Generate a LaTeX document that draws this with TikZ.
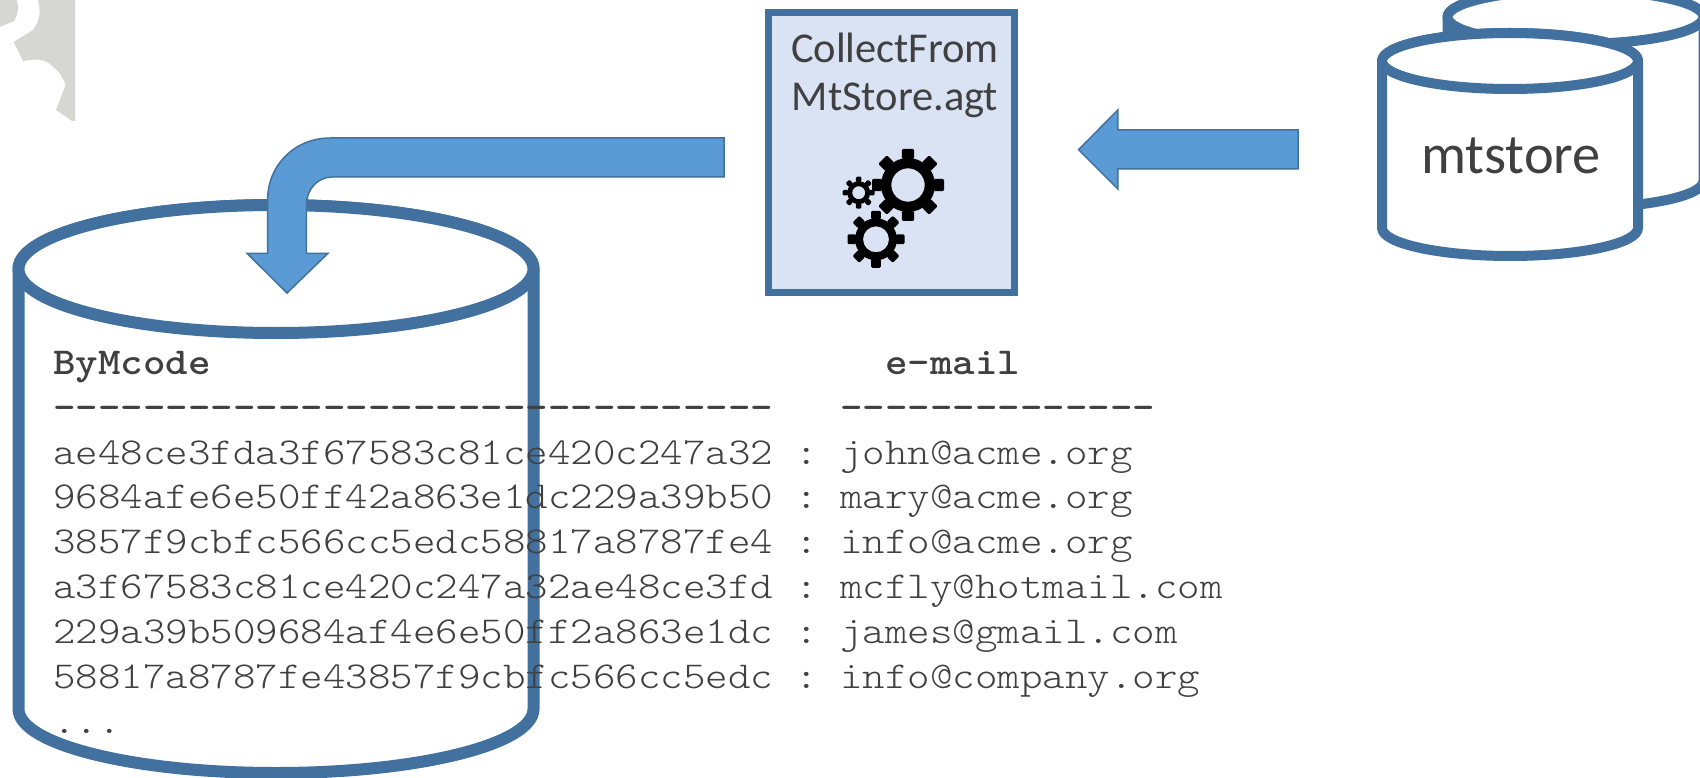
\documentclass[tikz,border=0pt]{standalone}
\usepackage{fontspec}
\setmainfont{Carlito}
\newfontfamily\codefont[FakeStretch=1.1275]{Latin Modern Mono Light}
\definecolor{edgeblue}{HTML}{43719F}
\definecolor{arrowblue}{HTML}{5B9BD5}
\definecolor{arrowedge}{HTML}{41719C}
\definecolor{boxfill}{HTML}{DAE3F3}
\definecolor{inkgrey}{HTML}{404040}
\definecolor{cornergrey}{HTML}{D6D7D2}
\tikzset{
  cylstroke/.style={draw=edgeblue,fill=white,line join=round},
  blockarrow/.style={fill=arrowblue,draw=arrowedge,line width=1.5pt,line join=miter},
  sanslabel/.style={inner sep=0pt,text=inkgrey,anchor=base,font=\fontsize{42.5}{48}\selectfont},
  storelabel/.style={inner sep=0pt,text=inkgrey,anchor=base,font=\fontsize{56.4}{60}\selectfont},
  codeline/.style={inner sep=0pt,text=inkgrey,anchor=base west,font=\fontsize{38}{45}\codefont},
}
% centre x, top-ellipse y, bottom-ellipse y, rx, ry
\newcommand{\cylinderat}[6]{%
  \path[cylstroke,line width=#6pt]
    ({#1-#4},#2) -- ({#1-#4},#3)
    arc[start angle=180,end angle=360,x radius=#4pt,y radius=#5pt]
    -- ({#1+#4},#2)
    arc[start angle=0,end angle=180,x radius=#4pt,y radius=#5pt] -- cycle;
  \path[cylstroke,line width=#6pt] (#1,#2) ellipse[x radius=#4pt,y radius=#5pt];
}
% centre x, y, outer, root, hole
\newcommand{\gearat}[5]{%
  \fill[black,even odd rule] (#1,#2) circle[radius=#4pt] (#1,#2) circle[radius=#5pt];
  \foreach \tooth in {0,45,...,315}{%
    \fill[black,rounded corners=1.2pt,shift={(#1,#2)},rotate=\tooth]
      ({#4-1},{-0.17*#3}) rectangle (#3,{0.17*#3});
  }%
}
\begin{document}
\begin{tikzpicture}[x=1pt,y=-1pt]
\useasboundingbox (0,0) rectangle (1700,778);
\clip (0,0) rectangle (1700,778);
% corner fragment
\fill[cornergrey] (0,0) -- (17,0) .. controls (19,8) and (18,15) .. (14,21) -- (0,27) -- cycle;
\fill[cornergrey] (38,0) .. controls (41,12) and (40,20) .. (33,30) -- (13.6,42) -- (23,61)
  .. controls (33,59) and (45,58) .. (52,66) .. controls (60,72) and (63,78) .. (65.5,85)
  -- (56,110) -- (72,121) -- (75,121) -- (75,0) -- cycle;
% mtstore cylinders
\cylinderat{1575.5}{17}{181}{128}{27}{10}
\cylinderat{1510}{61}{228}{128}{28}{10}
% ByMcode cylinder
\cylinderat{276}{269}{709}{257.5}{64}{12}
% agent box
\node[draw=edgeblue,fill=boxfill,line width=7pt,outer sep=0pt,minimum width=246pt,minimum height=279.5pt,inner sep=0pt] (agent) at (891.5,152.5) {};
\node[sanslabel] (agentA) at (895,62.7) {CollectFrom};
\node[sanslabel] (agentB) at (895,111) {MtStore.agt};
\gearat{908}{185}{36}{27}{16.7}
\gearat{876}{239.3}{28.5}{21}{13}
\gearat{858.7}{192.7}{16}{11.5}{6.5}
% arrows
\path[blockarrow] (1298,130) -- (1117.8,130) -- (1117.8,110) -- (1078.6,149.7) -- (1117.8,189) -- (1117.8,169) -- (1298,169) -- cycle;
\path[blockarrow] (724,138) -- (330,138) .. controls (295,138) and (267.6,165) .. (267.6,200)
  -- (267.6,253.3) -- (247,253.3) -- (287,293) -- (328,253.3) -- (306.4,253.3) -- (306.4,205)
  .. controls (306.4,190) and (317,177) .. (332,177) -- (724,177) -- cycle;
\node[storelabel] (store) at (1511,174) {mtstore};
% table
\node[codeline] (head) at (53,374.5) {\bfseries ByMcode~~~~~~~~~~~~~~~~~~~~~~~~~~~~~~e-mail};
\node[codeline] (rule) at (53,419) {\bfseries --------------------------------~~~--------------};
\node[codeline] (r1) at (53,464.5) {ae48ce3fda3f67583c81ce420c247a32~:~john@acme.org};
\node[codeline] (r2) at (53,508.5) {9684afe6e50ff42a863e1dc229a39b50~:~mary@acme.org};
\node[codeline] (r3) at (53,553) {3857f9cbfc566cc5edc58817a8787fe4~:~info@acme.org};
\node[codeline] (r4) at (53,598) {a3f67583c81ce420c247a32ae48ce3fd~:~mcfly@hotmail.com};
\node[codeline] (r5) at (53,643.5) {229a39b509684af4e6e50ff2a863e1dc~:~james@gmail.com};
\node[codeline] (r6) at (53,688.5) {58817a8787fe43857f9cbfc566cc5edc~:~info@company.org};
\node[codeline] (r7) at (53,733.5) {...};
\end{tikzpicture}
\end{document}
